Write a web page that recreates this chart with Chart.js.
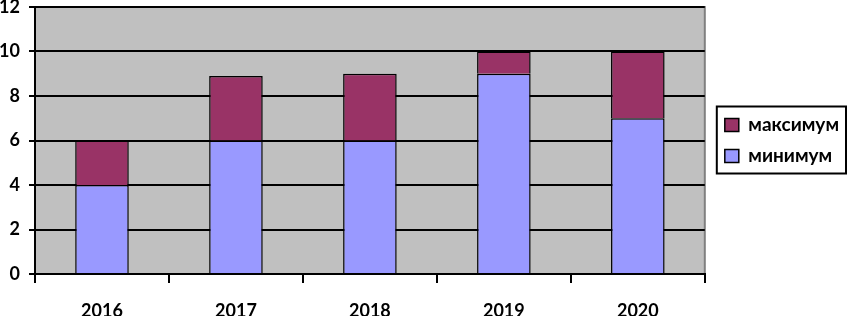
<!DOCTYPE html>
<html>
<head>
<meta charset="utf-8">
<script src="https://cdn.jsdelivr.net/npm/chart.js@4"></script>
<style>
html,body{margin:0;padding:0;background:#fff;}
</style>
</head>
<body>
<canvas id="canvas" width="849" height="316"></canvas>
<script>
const years=["2016","2017","2018","2019","2020"];
const minValues=[4,6,6,9,7];
const maxValues=[2,2.9,3,1,3];
const seriesNames=["минимум","максимум"];

// grey plot area with a thin border, like the old office charts
const plotBg={
    id:"plotBg",
    beforeDraw(chart){
        const {ctx,chartArea:a}=chart;
        ctx.save();
        ctx.fillStyle="#c0c0c0";
        ctx.fillRect(a.left,a.top,a.right-a.left,a.bottom-a.top);
        ctx.strokeStyle="#808080";
        ctx.lineWidth=2;
        ctx.strokeRect(a.left,a.top,a.right-a.left,a.bottom-a.top);
        ctx.restore();
    }
};
// frame around the legend items
const legendBox={
    id:"legendBox",
    afterDraw(chart){
        const boxes=chart.legend.legendHitBoxes;
        if(!boxes||!boxes.length)return;
        let l=Infinity,t=Infinity,b=-Infinity;
        boxes.forEach(h=>{
            l=Math.min(l,h.left);t=Math.min(t,h.top);
            b=Math.max(b,h.top+h.height);
        });
        const ctx=chart.ctx;
        ctx.save();
        ctx.strokeStyle="#000";
        ctx.lineWidth=2;
        ctx.strokeRect(l-8,t-9,846-(l-8),b-t+17);
        ctx.restore();
    }
};
const font={family:"Lato",weight:"bold",size:18};
new Chart(document.getElementById("canvas"),{
    type:"bar",
    data:{
        labels:years,
        datasets:[{
            label:seriesNames[0],
            data:minValues,
            backgroundColor:"#9999ff",
            borderColor:"#000",
            borderWidth:1.5
        },{
            label:seriesNames[1],
            data:maxValues,
            backgroundColor:"#993366",
            borderColor:"#000",
            borderWidth:1.5
        }]
    },
    options:{
        responsive:false,
        animation:false,
        devicePixelRatio:1,
        layout:{padding:{top:0,right:0,bottom:0,left:0}},
        datasets:{bar:{categoryPercentage:1,barPercentage:0.4}},
        scales:{
            x:{
                stacked:true,
                offset:true,
                grid:{display:true,drawOnChartArea:false,drawTicks:true,tickLength:9,color:"#000",lineWidth:2,offset:true},
                border:{display:true,color:"#000",width:2},
                ticks:{color:"#000",font:font,padding:17,maxRotation:0},
                afterFit(s){s.height=42;}
            },
            y:{
                stacked:true,
                min:0,max:12,
                ticks:{stepSize:2,color:"#000",font:font,padding:9},
                grid:{color:"#000",lineWidth:2,tickLength:6},
                border:{display:true,color:"#000",width:2},
                afterFit(s){s.width=35;s.paddingTop=7;}
            },
            // empty axis, only keeps a gap between plot and legend
            gap:{
                type:"linear",
                position:"right",
                min:0,max:12,
                grid:{drawOnChartArea:false,drawTicks:false},
                border:{display:false},
                ticks:{display:false},
                afterFit(s){s.width=8;s.paddingTop=0;}
            }
        },
        plugins:{
            legend:{
                position:"right",
                fullSize:false,
                reverse:true,
                labels:{
                    color:"#000",
                    font:{family:"Lato",weight:"bold",size:19},
                    boxWidth:14,boxHeight:13,padding:12
                }
            },
            tooltip:{enabled:false}
        }
    },
    plugins:[plotBg,legendBox]
});
</script>
</body>
</html>
